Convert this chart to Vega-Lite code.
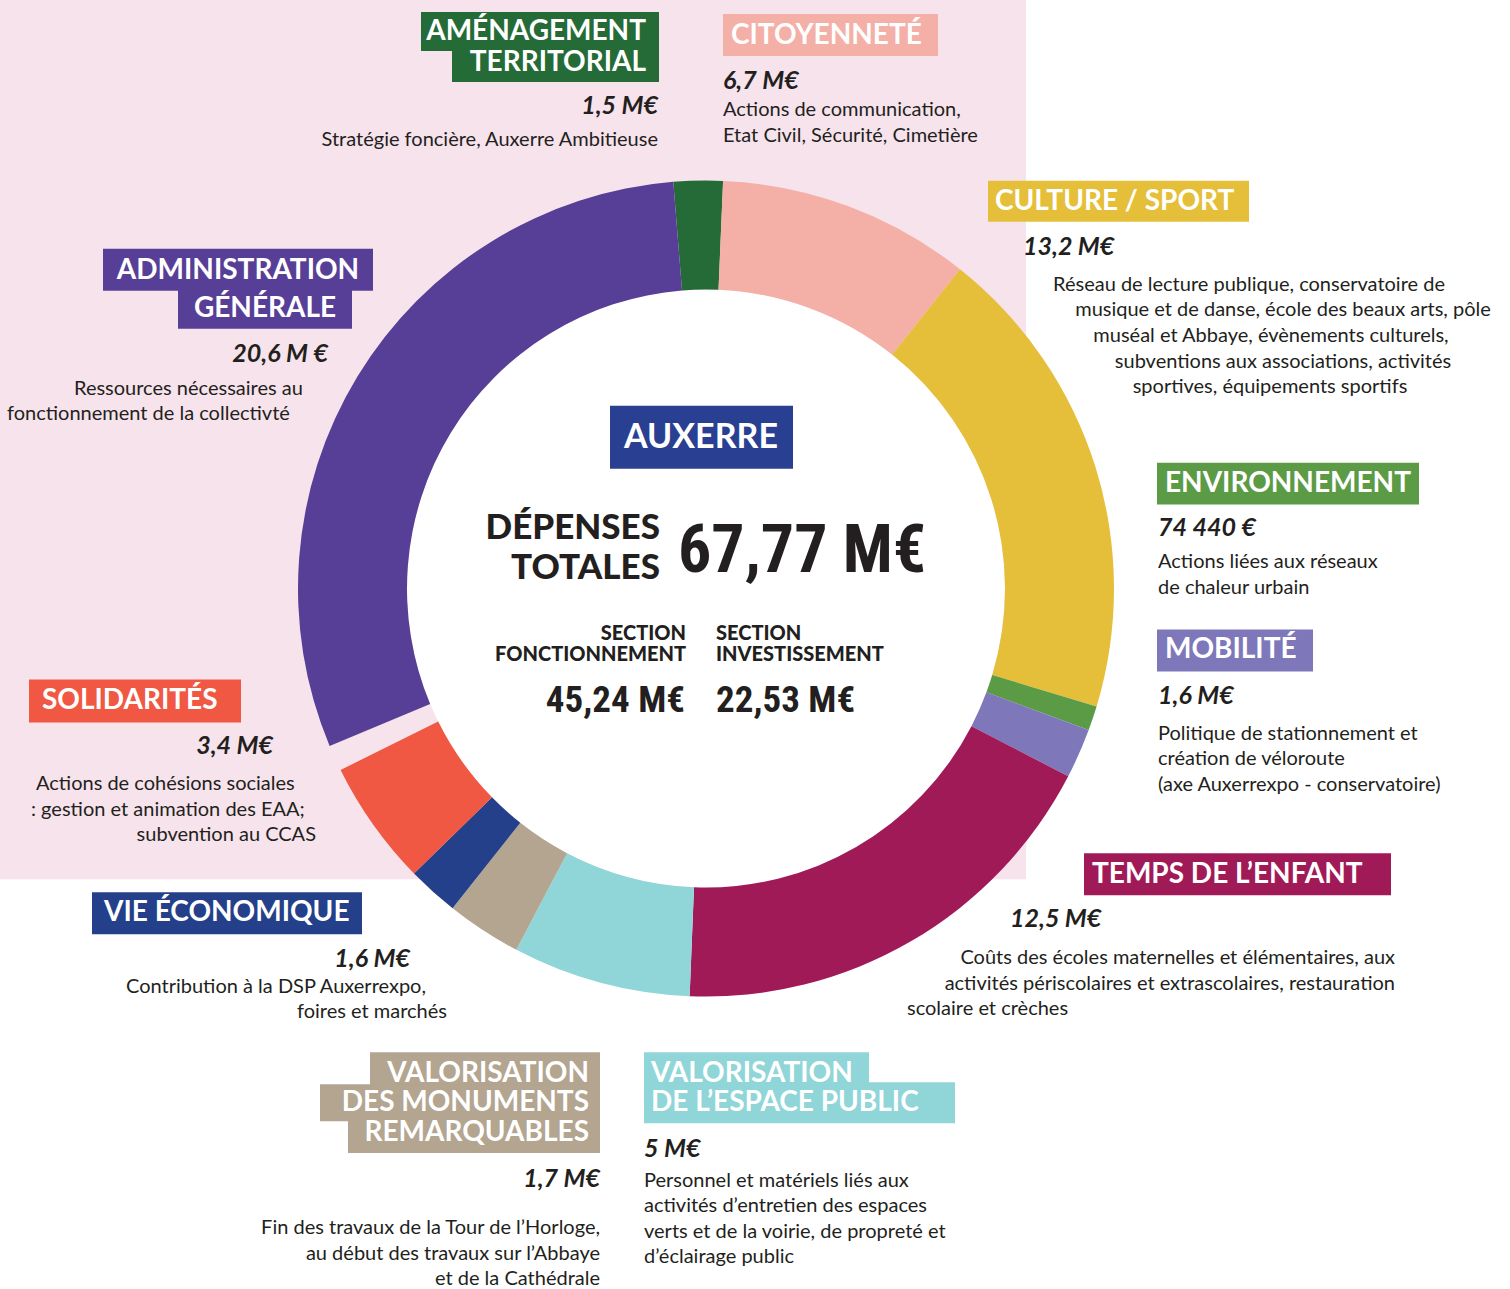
{
  "$schema": "https://vega.github.io/schema/vega-lite/v6.json",
  "width": 1510,
  "height": 1289,
  "autosize": {"type": "fit", "contains": "padding"},
  "padding": 0,
  "background": "white",
  "config": {"view": {"stroke": null}},
  "datasets": {
    "postes": [
      {"poste": "Aménagement territorial", "ordre": 1, "montant": 1.5, "angle_lu": 7.0},
      {"poste": "Citoyenneté", "ordre": 2, "montant": 6.7, "angle_lu": 36.1},
      {"poste": "Culture / Sport", "ordre": 3, "montant": 13.2, "angle_lu": 68.3},
      {"poste": "Environnement", "ordre": 4, "montant": 0.0744, "angle_lu": 3.5},
      {"poste": "Mobilité", "ordre": 5, "montant": 1.6, "angle_lu": 7.1},
      {"poste": "Temps de l’enfant", "ordre": 6, "montant": 12.5, "angle_lu": 64.9},
      {"poste": "Valorisation de l’espace public", "ordre": 7, "montant": 5, "angle_lu": 25.4},
      {"poste": "Valorisation des monuments remarquables", "ordre": 8, "montant": 1.7, "angle_lu": 10.7},
      {"poste": "Vie économique", "ordre": 9, "montant": 1.6, "angle_lu": 7.3},
      {"poste": "Solidarités", "ordre": 10, "montant": 3.4, "angle_lu": 17.9},
      {"poste": "(espace)", "ordre": 11, "montant": 0, "angle_lu": 3.7},
      {"poste": "Administration générale", "ordre": 12, "montant": 20.6, "angle_lu": 108.1}
    ],
    "reperes": [
      {"role": "fond", "x": 0, "x2": 1026, "y": 0, "y2": 880},
      {"role": "logo", "x": 610, "x2": 793, "y": 406, "y2": 469},
      {"role": "centre", "x": 706, "x2": 706, "y": 589, "y2": 589}
    ],
    "boites": [
      {"poste": "Aménagement territorial", "x": 421, "x2": 659, "y": 12, "y2": 51},
      {"poste": "Aménagement territorial", "x": 452, "x2": 659, "y": 50, "y2": 82},
      {"poste": "Citoyenneté", "x": 723, "x2": 938, "y": 14, "y2": 56},
      {"poste": "Culture / Sport", "x": 988, "x2": 1249, "y": 181, "y2": 222},
      {"poste": "Environnement", "x": 1157, "x2": 1419, "y": 463, "y2": 505},
      {"poste": "Mobilité", "x": 1157, "x2": 1313, "y": 630, "y2": 672},
      {"poste": "Temps de l’enfant", "x": 1084, "x2": 1391, "y": 854, "y2": 896},
      {"poste": "Valorisation de l’espace public", "x": 644, "x2": 869, "y": 1053, "y2": 1085},
      {"poste": "Valorisation de l’espace public", "x": 644, "x2": 955, "y": 1083, "y2": 1124},
      {"poste": "Valorisation des monuments remarquables", "x": 370, "x2": 600, "y": 1053, "y2": 1087},
      {"poste": "Valorisation des monuments remarquables", "x": 320, "x2": 600, "y": 1085, "y2": 1122},
      {"poste": "Valorisation des monuments remarquables", "x": 348, "x2": 600, "y": 1120, "y2": 1154},
      {"poste": "Vie économique", "x": 92, "x2": 362, "y": 893, "y2": 935},
      {"poste": "Solidarités", "x": 29, "x2": 241, "y": 680, "y2": 723},
      {"poste": "Administration générale", "x": 103, "x2": 373, "y": 249, "y2": 291},
      {"poste": "Administration générale", "x": 178, "x2": 352, "y": 290, "y2": 329}
    ],
    "textes": [
      {"style": "titre", "ancre": "droite", "x": 646, "y": 32, "texte": "AMÉNAGEMENT"},
      {"style": "titre", "ancre": "droite", "x": 646, "y": 63, "texte": "TERRITORIAL"},
      {"style": "titre", "ancre": "gauche", "x": 731, "y": 36, "texte": "CITOYENNETÉ"},
      {"style": "titre", "ancre": "gauche", "x": 995, "y": 202, "texte": "CULTURE / SPORT"},
      {"style": "titre", "ancre": "gauche", "x": 1165, "y": 484, "texte": "ENVIRONNEMENT"},
      {"style": "titre", "ancre": "gauche", "x": 1165, "y": 651, "texte": "MOBILITÉ"},
      {"style": "titre", "ancre": "gauche", "x": 1092, "y": 876, "texte": "TEMPS DE L’ENFANT"},
      {"style": "titre", "ancre": "gauche", "x": 651, "y": 1075, "texte": "VALORISATION"},
      {"style": "titre", "ancre": "gauche", "x": 651, "y": 1104, "texte": "DE L’ESPACE PUBLIC"},
      {"style": "titre", "ancre": "droite", "x": 589, "y": 1075, "texte": "VALORISATION"},
      {"style": "titre", "ancre": "droite", "x": 589, "y": 1104, "texte": "DES MONUMENTS"},
      {"style": "titre", "ancre": "droite", "x": 589, "y": 1134, "texte": "REMARQUABLES"},
      {"style": "titre", "ancre": "gauche", "x": 104, "y": 914, "texte": "VIE ÉCONOMIQUE"},
      {"style": "titre", "ancre": "gauche", "x": 42, "y": 702, "texte": "SOLIDARITÉS"},
      {"style": "titre", "ancre": "centre", "x": 238, "y": 271, "texte": "ADMINISTRATION"},
      {"style": "titre", "ancre": "centre", "x": 265, "y": 309, "texte": "GÉNÉRALE"},

      {"style": "montant", "ancre": "droite", "x": 658, "y": 106, "texte": "1,5 M€"},
      {"style": "montant", "ancre": "gauche", "x": 723, "y": 81, "texte": "6,7 M€"},
      {"style": "montant", "ancre": "gauche", "x": 1023, "y": 247, "texte": "13,2 M€"},
      {"style": "montant", "ancre": "gauche", "x": 1158, "y": 528, "texte": "74 440 €"},
      {"style": "montant", "ancre": "gauche", "x": 1158, "y": 697, "texte": "1,6 M€"},
      {"style": "montant", "ancre": "gauche", "x": 1010, "y": 920, "texte": "12,5 M€"},
      {"style": "montant", "ancre": "gauche", "x": 644, "y": 1150, "texte": "5 M€"},
      {"style": "montant", "ancre": "droite", "x": 600, "y": 1180, "texte": "1,7 M€"},
      {"style": "montant", "ancre": "droite", "x": 410, "y": 960, "texte": "1,6 M€"},
      {"style": "montant", "ancre": "droite", "x": 273, "y": 747, "texte": "3,4 M€"},
      {"style": "montant", "ancre": "droite", "x": 328, "y": 354, "texte": "20,6 M €"},

      {"style": "texte", "ancre": "droite", "x": 658, "y": 140, "texte": "Stratégie foncière, Auxerre Ambitieuse"},
      {"style": "texte", "ancre": "gauche", "x": 723, "y": 110, "texte": "Actions de communication,"},
      {"style": "texte", "ancre": "gauche", "x": 723, "y": 136, "texte": "Etat Civil, Sécurité, Cimetière"},
      {"style": "texte", "ancre": "centre", "x": 1249, "y": 285, "texte": "Réseau de lecture publique, conservatoire de"},
      {"style": "texte", "ancre": "centre", "x": 1283, "y": 310, "texte": "musique et de danse, école des beaux arts, pôle"},
      {"style": "texte", "ancre": "centre", "x": 1271, "y": 336, "texte": "muséal et Abbaye, évènements culturels,"},
      {"style": "texte", "ancre": "centre", "x": 1283, "y": 362, "texte": "subventions aux associations, activités"},
      {"style": "texte", "ancre": "centre", "x": 1270, "y": 387, "texte": "sportives, équipements sportifs"},
      {"style": "texte", "ancre": "gauche", "x": 1158, "y": 562, "texte": "Actions liées aux réseaux"},
      {"style": "texte", "ancre": "gauche", "x": 1158, "y": 588, "texte": "de chaleur urbain"},
      {"style": "texte", "ancre": "gauche", "x": 1158, "y": 735, "texte": "Politique de stationnement et"},
      {"style": "texte", "ancre": "gauche", "x": 1158, "y": 760, "texte": "création de véloroute"},
      {"style": "texte", "ancre": "gauche", "x": 1158, "y": 786, "texte": "(axe Auxerrexpo - conservatoire)"},
      {"style": "texte", "ancre": "droite", "x": 1395, "y": 959, "texte": "Coûts des écoles maternelles et élémentaires, aux"},
      {"style": "texte", "ancre": "droite", "x": 1395, "y": 985, "texte": "activités périscolaires et extrascolaires, restauration"},
      {"style": "texte", "ancre": "gauche", "x": 907, "y": 1010, "texte": "scolaire et crèches"},
      {"style": "texte", "ancre": "gauche", "x": 644, "y": 1182, "texte": "Personnel et matériels liés aux"},
      {"style": "texte", "ancre": "gauche", "x": 644, "y": 1207, "texte": "activités d’entretien des espaces"},
      {"style": "texte", "ancre": "gauche", "x": 644, "y": 1233, "texte": "verts et de la voirie, de propreté et"},
      {"style": "texte", "ancre": "gauche", "x": 644, "y": 1258, "texte": "d’éclairage public"},
      {"style": "texte", "ancre": "droite", "x": 600, "y": 1229, "texte": "Fin des travaux de la Tour de l’Horloge,"},
      {"style": "texte", "ancre": "droite", "x": 600, "y": 1255, "texte": "au début des travaux sur l’Abbaye"},
      {"style": "texte", "ancre": "droite", "x": 600, "y": 1280, "texte": "et de la Cathédrale"},
      {"style": "texte", "ancre": "droite", "x": 426, "y": 988, "texte": "Contribution à la DSP Auxerrexpo,"},
      {"style": "texte", "ancre": "droite", "x": 447, "y": 1013, "texte": "foires et marchés"},
      {"style": "texte", "ancre": "gauche", "x": 36, "y": 785, "texte": "Actions de cohésions sociales"},
      {"style": "texte", "ancre": "gauche", "x": 31, "y": 811, "texte": ": gestion et animation des EAA;"},
      {"style": "texte", "ancre": "droite", "x": 316, "y": 836, "texte": "subvention au CCAS"},
      {"style": "texte", "ancre": "gauche", "x": 74, "y": 389, "texte": "Ressources nécessaires au"},
      {"style": "texte", "ancre": "gauche", "x": 7, "y": 414, "texte": "fonctionnement de la collectivté"},

      {"style": "etiquette", "ancre": "droite", "x": 660, "y": 528, "texte": "DÉPENSES"},
      {"style": "etiquette", "ancre": "droite", "x": 660, "y": 568, "texte": "TOTALES"},
      {"style": "total", "ancre": "gauche", "x": 678, "y": 552, "texte": "67,77 M€"},
      {"style": "section", "ancre": "droite", "x": 686, "y": 634, "texte": "SECTION"},
      {"style": "section", "ancre": "droite", "x": 686, "y": 656, "texte": "FONCTIONNEMENT"},
      {"style": "section", "ancre": "gauche", "x": 716, "y": 634, "texte": "SECTION"},
      {"style": "section", "ancre": "gauche", "x": 716, "y": 656, "texte": "INVESTISSEMENT"},
      {"style": "partiel", "ancre": "droite", "x": 685, "y": 702, "texte": "45,24 M€"},
      {"style": "partiel", "ancre": "gauche", "x": 716, "y": 702, "texte": "22,53 M€"},
      {"style": "logo", "ancre": "centre", "x": 701, "y": 438, "texte": "AUXERRE"}
    ]
  },
  "layer": [
    {
      "data": {"name": "reperes"},
      "transform": [{"filter": "datum.role == 'fond'"}],
      "mark": {"type": "rect", "fill": "#F7E3EC"},
      "encoding": {
        "x": {"field": "x", "type": "quantitative", "scale": {"domain": [0, 1510], "nice": false, "zero": false}, "axis": null},
        "x2": {"field": "x2"},
        "y": {"field": "y", "type": "quantitative", "scale": {"domain": [0, 1289], "nice": false, "zero": false, "reverse": true}, "axis": null},
        "y2": {"field": "y2"}
      }
    },
    {
      "data": {"name": "reperes"},
      "transform": [{"filter": "datum.role == 'centre'"}],
      "mark": {"type": "arc", "radius": 299, "theta": 0, "theta2": 6.2832, "fill": "white"},
      "encoding": {
        "x": {"field": "x", "type": "quantitative", "axis": null},
        "y": {"field": "y", "type": "quantitative", "axis": null}
      }
    },
    {
      "data": {"name": "postes"},
      "transform": [{"lookup": "ordre", "from": {"data": {"values": [{"ordre": 1, "cx": 706, "cy": 589}, {"ordre": 2, "cx": 706, "cy": 589}, {"ordre": 3, "cx": 706, "cy": 589}, {"ordre": 4, "cx": 706, "cy": 589}, {"ordre": 5, "cx": 706, "cy": 589}, {"ordre": 6, "cx": 706, "cy": 589}, {"ordre": 7, "cx": 706, "cy": 589}, {"ordre": 8, "cx": 706, "cy": 589}, {"ordre": 9, "cx": 706, "cy": 589}, {"ordre": 10, "cx": 706, "cy": 589}, {"ordre": 11, "cx": 706, "cy": 589}, {"ordre": 12, "cx": 706, "cy": 589}]}, "key": "ordre", "fields": ["cx", "cy"]}}],
      "mark": {"type": "arc", "radius": 408, "radius2": 299},
      "encoding": {
        "x": {"field": "cx", "type": "quantitative", "axis": null},
        "y": {"field": "cy", "type": "quantitative", "axis": null},
        "theta": {"field": "angle_lu", "type": "quantitative", "stack": true, "scale": {"domain": [0, 360], "range": [-0.0803, 6.2029]}},
        "order": {"field": "ordre", "type": "quantitative"},
        "color": {
          "field": "poste", "type": "nominal", "legend": null,
          "scale": {
            "domain": ["Aménagement territorial", "Citoyenneté", "Culture / Sport", "Environnement", "Mobilité", "Temps de l’enfant", "Valorisation de l’espace public", "Valorisation des monuments remarquables", "Vie économique", "Solidarités", "(espace)", "Administration générale"],
            "range": ["#246B37", "#F4AFA7", "#E5BF3A", "#5C9B46", "#7E78BA", "#A01A58", "#90D5D8", "#B3A590", "#24408A", "#F05843", "rgba(0,0,0,0)", "#573F97"]
          }
        }
      }
    },
    {
      "data": {"name": "boites"},
      "mark": {"type": "rect"},
      "encoding": {
        "x": {"field": "x", "type": "quantitative", "axis": null},
        "x2": {"field": "x2"},
        "y": {"field": "y", "type": "quantitative", "axis": null},
        "y2": {"field": "y2"},
        "color": {"field": "poste", "type": "nominal", "legend": null}
      }
    },
    {
      "data": {"name": "reperes"},
      "transform": [{"filter": "datum.role == 'logo'"}],
      "mark": {"type": "rect", "fill": "#293F92"},
      "encoding": {
        "x": {"field": "x", "type": "quantitative", "axis": null},
        "x2": {"field": "x2"},
        "y": {"field": "y", "type": "quantitative", "axis": null},
        "y2": {"field": "y2"}
      }
    },
    {
      "data": {"name": "textes"},
      "transform": [{"filter": "datum.style == 'titre' && datum.ancre == 'gauche'"}],
      "mark": {"type": "text", "align": "left", "baseline": "middle", "font": "Lato", "fontWeight": "bold", "fontSize": 28, "fill": "white"},
      "encoding": {"x": {"field": "x", "type": "quantitative", "axis": null}, "y": {"field": "y", "type": "quantitative", "axis": null}, "text": {"field": "texte"}}
    },
    {
      "data": {"name": "textes"},
      "transform": [{"filter": "datum.style == 'titre' && datum.ancre == 'droite'"}],
      "mark": {"type": "text", "align": "right", "baseline": "middle", "font": "Lato", "fontWeight": "bold", "fontSize": 28, "fill": "white"},
      "encoding": {"x": {"field": "x", "type": "quantitative", "axis": null}, "y": {"field": "y", "type": "quantitative", "axis": null}, "text": {"field": "texte"}}
    },
    {
      "data": {"name": "textes"},
      "transform": [{"filter": "datum.style == 'titre' && datum.ancre == 'centre'"}],
      "mark": {"type": "text", "align": "center", "baseline": "middle", "font": "Lato", "fontWeight": "bold", "fontSize": 28, "fill": "white"},
      "encoding": {"x": {"field": "x", "type": "quantitative", "axis": null}, "y": {"field": "y", "type": "quantitative", "axis": null}, "text": {"field": "texte"}}
    },
    {
      "data": {"name": "textes"},
      "transform": [{"filter": "datum.style == 'montant' && datum.ancre == 'gauche'"}],
      "mark": {"type": "text", "align": "left", "baseline": "middle", "font": "Lato", "fontWeight": "bold", "fontStyle": "italic", "fontSize": 25, "fill": "#231F20"},
      "encoding": {"x": {"field": "x", "type": "quantitative", "axis": null}, "y": {"field": "y", "type": "quantitative", "axis": null}, "text": {"field": "texte"}}
    },
    {
      "data": {"name": "textes"},
      "transform": [{"filter": "datum.style == 'montant' && datum.ancre == 'droite'"}],
      "mark": {"type": "text", "align": "right", "baseline": "middle", "font": "Lato", "fontWeight": "bold", "fontStyle": "italic", "fontSize": 25, "fill": "#231F20"},
      "encoding": {"x": {"field": "x", "type": "quantitative", "axis": null}, "y": {"field": "y", "type": "quantitative", "axis": null}, "text": {"field": "texte"}}
    },
    {
      "data": {"name": "textes"},
      "transform": [{"filter": "datum.style == 'texte' && datum.ancre == 'gauche'"}],
      "mark": {"type": "text", "align": "left", "baseline": "middle", "font": "Lato", "fontSize": 20, "fill": "#231F20"},
      "encoding": {"x": {"field": "x", "type": "quantitative", "axis": null}, "y": {"field": "y", "type": "quantitative", "axis": null}, "text": {"field": "texte"}}
    },
    {
      "data": {"name": "textes"},
      "transform": [{"filter": "datum.style == 'texte' && datum.ancre == 'droite'"}],
      "mark": {"type": "text", "align": "right", "baseline": "middle", "font": "Lato", "fontSize": 20, "fill": "#231F20"},
      "encoding": {"x": {"field": "x", "type": "quantitative", "axis": null}, "y": {"field": "y", "type": "quantitative", "axis": null}, "text": {"field": "texte"}}
    },
    {
      "data": {"name": "textes"},
      "transform": [{"filter": "datum.style == 'texte' && datum.ancre == 'centre'"}],
      "mark": {"type": "text", "align": "center", "baseline": "middle", "font": "Lato", "fontSize": 20, "fill": "#231F20"},
      "encoding": {"x": {"field": "x", "type": "quantitative", "axis": null}, "y": {"field": "y", "type": "quantitative", "axis": null}, "text": {"field": "texte"}}
    },
    {
      "data": {"name": "textes"},
      "transform": [{"filter": "datum.style == 'etiquette'"}],
      "mark": {"type": "text", "align": "right", "baseline": "middle", "font": "Lato", "fontWeight": 900, "fontSize": 35, "fill": "#231F20"},
      "encoding": {"x": {"field": "x", "type": "quantitative", "axis": null}, "y": {"field": "y", "type": "quantitative", "axis": null}, "text": {"field": "texte"}}
    },
    {
      "data": {"name": "textes"},
      "transform": [{"filter": "datum.style == 'total'"}],
      "mark": {"type": "text", "align": "left", "baseline": "middle", "font": "Roboto Condensed, DejaVu Sans Condensed, sans-serif", "fontWeight": "bold", "fontSize": 66, "fill": "#231F20"},
      "encoding": {"x": {"field": "x", "type": "quantitative", "axis": null}, "y": {"field": "y", "type": "quantitative", "axis": null}, "text": {"field": "texte"}}
    },
    {
      "data": {"name": "textes"},
      "transform": [{"filter": "datum.style == 'section' && datum.ancre == 'droite'"}],
      "mark": {"type": "text", "align": "right", "baseline": "middle", "font": "Lato", "fontWeight": 900, "fontSize": 20, "fill": "#231F20"},
      "encoding": {"x": {"field": "x", "type": "quantitative", "axis": null}, "y": {"field": "y", "type": "quantitative", "axis": null}, "text": {"field": "texte"}}
    },
    {
      "data": {"name": "textes"},
      "transform": [{"filter": "datum.style == 'section' && datum.ancre == 'gauche'"}],
      "mark": {"type": "text", "align": "left", "baseline": "middle", "font": "Lato", "fontWeight": 900, "fontSize": 20, "fill": "#231F20"},
      "encoding": {"x": {"field": "x", "type": "quantitative", "axis": null}, "y": {"field": "y", "type": "quantitative", "axis": null}, "text": {"field": "texte"}}
    },
    {
      "data": {"name": "textes"},
      "transform": [{"filter": "datum.style == 'partiel' && datum.ancre == 'droite'"}],
      "mark": {"type": "text", "align": "right", "baseline": "middle", "font": "Roboto Condensed, DejaVu Sans Condensed, sans-serif", "fontWeight": "bold", "fontSize": 37, "fill": "#231F20"},
      "encoding": {"x": {"field": "x", "type": "quantitative", "axis": null}, "y": {"field": "y", "type": "quantitative", "axis": null}, "text": {"field": "texte"}}
    },
    {
      "data": {"name": "textes"},
      "transform": [{"filter": "datum.style == 'partiel' && datum.ancre == 'gauche'"}],
      "mark": {"type": "text", "align": "left", "baseline": "middle", "font": "Roboto Condensed, DejaVu Sans Condensed, sans-serif", "fontWeight": "bold", "fontSize": 37, "fill": "#231F20"},
      "encoding": {"x": {"field": "x", "type": "quantitative", "axis": null}, "y": {"field": "y", "type": "quantitative", "axis": null}, "text": {"field": "texte"}}
    },
    {
      "data": {"name": "textes"},
      "transform": [{"filter": "datum.style == 'logo'"}],
      "mark": {"type": "text", "align": "center", "baseline": "middle", "font": "Lato", "fontWeight": "bold", "fontSize": 34, "fill": "white"},
      "encoding": {"x": {"field": "x", "type": "quantitative", "axis": null}, "y": {"field": "y", "type": "quantitative", "axis": null}, "text": {"field": "texte"}}
    }
  ]
}
